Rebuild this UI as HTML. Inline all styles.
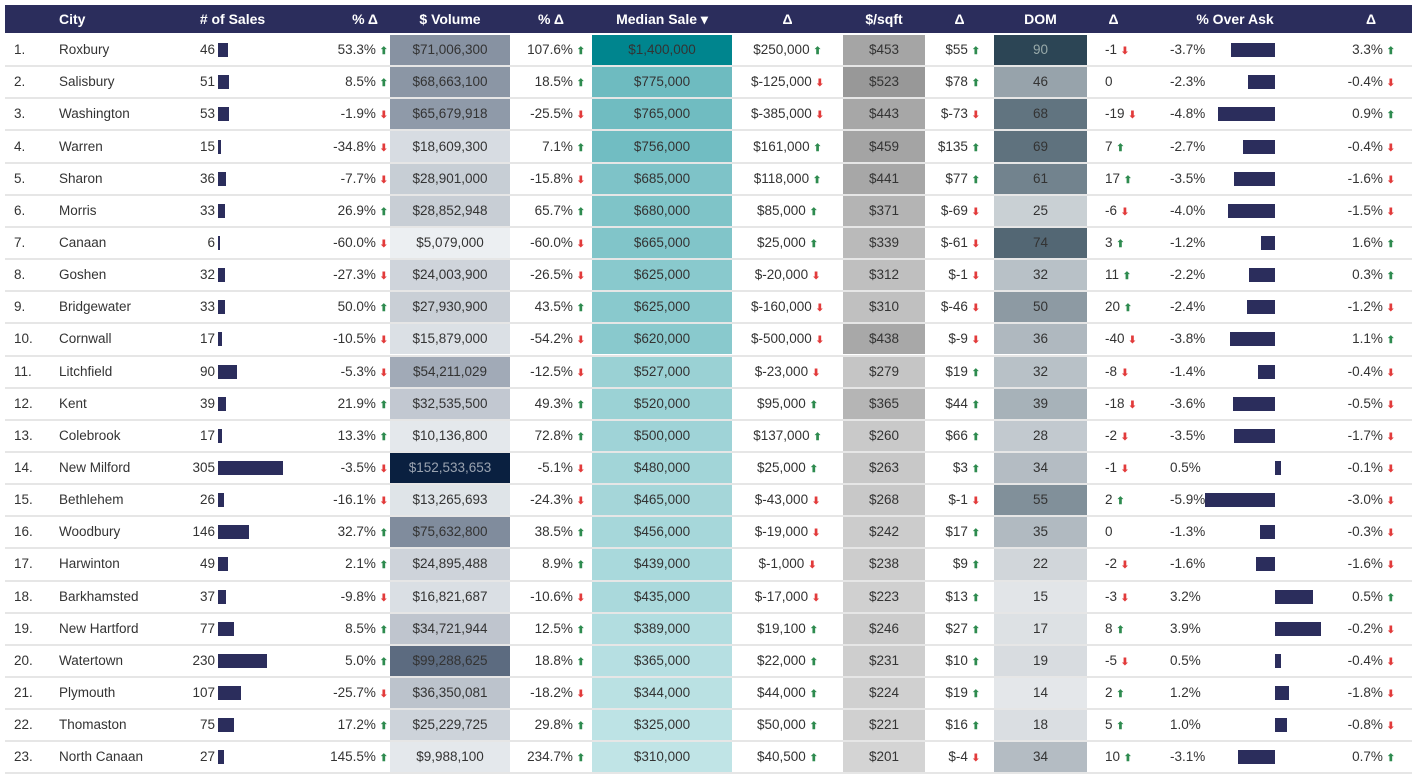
<!DOCTYPE html>
<html><head><meta charset="utf-8">
<style>
body{margin:0;width:1418px;height:773px;background:#fff;overflow:hidden;font-family:"Liberation Sans",sans-serif;position:relative}
.a{position:absolute;box-sizing:border-box}
.h{color:#fff;font-weight:bold;font-size:14px;top:5px;height:28px;line-height:28px}
.t{font-size:13.5px;color:#333;white-space:nowrap;line-height:20px}
.up{color:#2e8b4f;font-size:10px;font-weight:bold}
.dn{color:#e23b3b;font-size:10px;font-weight:bold}
</style></head><body>
<div class="a" style="left:5px;top:5px;width:1407px;height:28px;background:#2b2d5c"></div>
<div id="root"></div>
<script>
const cities=["Roxbury","Salisbury","Washington","Warren","Sharon","Morris","Canaan","Goshen","Bridgewater","Cornwall","Litchfield","Kent","Colebrook","New Milford","Bethlehem","Woodbury","Harwinton","Barkhamsted","New Hartford","Watertown","Plymouth","Thomaston","North Canaan"];
const sales=[46,51,53,15,36,33,6,32,33,17,90,39,17,305,26,146,49,37,77,230,107,75,27];
const salesChg=[53.3,8.5,-1.9,-34.8,-7.7,26.9,-60.0,-27.3,50.0,-10.5,-5.3,21.9,13.3,-3.5,-16.1,32.7,2.1,-9.8,8.5,5.0,-25.7,17.2,145.5];
const volume=[71006300,68663100,65679918,18609300,28901000,28852948,5079000,24003900,27930900,15879000,54211029,32535500,10136800,152533653,13265693,75632800,24895488,16821687,34721944,99288625,36350081,25229725,9988100];
const volChg=[107.6,18.5,-25.5,7.1,-15.8,65.7,-60.0,-26.5,43.5,-54.2,-12.5,49.3,72.8,-5.1,-24.3,38.5,8.9,-10.6,12.5,18.8,-18.2,29.8,234.7];
const median=[1400000,775000,765000,756000,685000,680000,665000,625000,625000,620000,527000,520000,500000,480000,465000,456000,439000,435000,389000,365000,344000,325000,310000];
const medChg=[250000,-125000,-385000,161000,118000,85000,25000,-20000,-160000,-500000,-23000,95000,137000,25000,-43000,-19000,-1000,-17000,19100,22000,44000,50000,40500];
const sqft=[453,523,443,459,441,371,339,312,310,438,279,365,260,263,268,242,238,223,246,231,224,221,201];
const sqftChg=[55,78,-73,135,77,-69,-61,-1,-46,-9,19,44,66,3,-1,17,9,13,27,10,19,16,-4];
const dom=[90,46,68,69,61,25,74,32,50,36,32,39,28,34,55,35,22,15,17,19,14,18,34];
const domChg=[-1,0,-19,7,17,-6,3,11,20,-40,-8,-18,-2,-1,2,0,-2,-3,8,-5,2,5,10];
const overAsk=[-3.7,-2.3,-4.8,-2.7,-3.5,-4.0,-1.2,-2.2,-2.4,-3.8,-1.4,-3.6,-3.5,0.5,-5.9,-1.3,-1.6,3.2,3.9,0.5,1.2,1.0,-3.1];
const askChg=[3.3,-0.4,0.9,-0.4,-1.6,-1.5,1.6,0.3,-1.2,1.1,-0.4,-0.5,-1.7,-0.1,-3.0,-0.3,-1.6,0.5,-0.2,-0.4,-1.8,-0.8,0.7];

const root=document.getElementById('root');
function mk(cls,style,html,name){const d=document.createElement('div');d.className='a '+cls;d.style.cssText=style;if(html!==undefined)d.innerHTML=html;


root.appendChild(d);return d;}
const heads=[["City",59,null,"left"],["# of Sales",175,115,"center"],["% Δ",290,88,"right"],["$ Volume",390,120,"center"],["% Δ",510,82,"center"],["Median Sale ▾",592,140,"center"],["Δ",732,111,"center"],["$/sqft",843,82,"center"],["Δ",925,69,"center"],["DOM",994,93,"center"],["Δ",1087,53,"center"],["% Over Ask",1140,190,"center"],["Δ",1330,82,"center"]];
heads.forEach((h,i)=>{const s='left:'+h[1]+'px;'+(h[2]?'width:'+h[2]+'px;':'')+'text-align:'+h[3]+';';
const e=mk('h',s,h[0],'header-'+i);});
function lerp(c1,c2,t){return 'rgb('+c1.map((v,k)=>Math.round(v+(c2[k]-v)*t)).join(',')+')';}
function scale(arr,v){const mn=Math.min(...arr),mx=Math.max(...arr);return (v-mn)/(mx-mn);}
function money(v){return '$'+v.toLocaleString('en-US');}
function arr(v){return v>0?' <span class="up">⬆</span>':v<0?' <span class="dn">⬇</span>':'';}
const RH=32.15,Y0=34;
const xS=v=>v*65/305;
const xA=v=>v*11.8;
for(let i=0;i<cities.length;i++){
 const y=Y0+RH*i,cy=y+RH/2-10;
 mk('','left:5px;top:'+(y+RH-1)+'px;width:1407px;height:2px;background:#e6e6e6',undefined,'row-separator');
 const cell=(x,w,arrv,c,name)=>{const t=scale(arrv,arrv[i]);mk('','left:'+x+'px;top:'+(y+1)+'px;width:'+w+'px;height:'+(RH-2)+'px;background:'+c(t),undefined,name);return t;};
 const tv=cell(390,120,volume,t=>lerp([236,239,242],[10,32,64],t),'volume-cell');
 cell(592,140,median,t=>lerp([192,228,230],[0,133,142],t),'median-cell');
 cell(843,82,sqft,t=>lerp([212,212,212],[152,152,152],t),'sqft-cell');
 const td=cell(994,93,dom,t=>lerp([228,231,234],[44,69,85],t),'dom-cell');
 const T=(s,html,name)=>mk('t','top:'+cy+'px;'+s,html,name);
 T('left:14px',(i+1)+'.','row-index');
 T('left:59px',cities[i],'city-name');
 T('right:'+(1418-215)+'px',String(sales[i]),'sales-value');
 mk('','left:218px;top:'+(y+RH/2-7)+'px;width:'+Math.max(2,xS(sales[i]))+'px;height:14px;background:#2b2d5c',undefined,'sales-bar');
 T('right:'+(1418-388)+'px',salesChg[i].toFixed(1)+'%'+arr(salesChg[i]),'sales-change');
 T('left:390px;width:120px;text-align:center;color:'+(tv>0.9?'#9aa3b0':'#333'),money(volume[i]),'volume-value');
 T('right:'+(1418-585)+'px',volChg[i].toFixed(1)+'%'+arr(volChg[i]),'volume-change');
 T('left:592px;width:140px;text-align:center',money(median[i]),'median-value');
 T('left:732px;width:111px;text-align:center',money(medChg[i])+arr(medChg[i]),'median-change');
 T('left:843px;width:82px;text-align:center','$'+sqft[i],'sqft-value');
 T('right:'+(1418-980)+'px','$'+sqftChg[i]+arr(sqftChg[i]),'sqft-change');
 T('left:994px;width:93px;text-align:center;color:'+(td>0.9?'#9aa':'#333'),String(dom[i]),'dom-value');
 T('left:1105px',domChg[i]+arr(domChg[i]),'dom-change');
 T('left:1170px',overAsk[i].toFixed(1)+'%','over-ask-value');
 const w=Math.max(6,Math.abs(xA(overAsk[i])));
 mk('','left:'+(overAsk[i]<0?1275-w:1275)+'px;top:'+(y+RH/2-7)+'px;width:'+w+'px;height:14px;background:#2b2d5c',undefined,'over-ask-bar');
 T('right:'+(1418-1395)+'px',askChg[i].toFixed(1)+'%'+arr(askChg[i]),'over-ask-change');
}
</script>
</body></html>
